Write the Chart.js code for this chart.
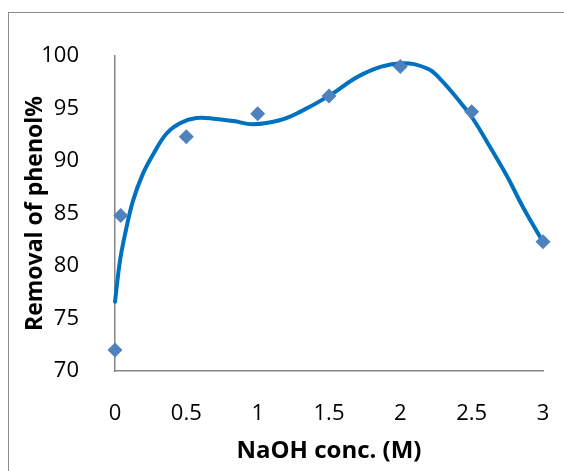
<!DOCTYPE html>
<html>
<head>
<meta charset="utf-8">
<script src="https://cdn.jsdelivr.net/npm/chart.js@4"></script>
<style>
  html, body { margin: 0; padding: 0; background: #fff; }
  #wrap { position: relative; width: 564px; height: 471px; overflow: hidden; }
  #frame { position: absolute; left: 8px; top: 12px; width: 600px; height: 500px;
           border-left: 1.5px solid #8c8c8c; border-top: 1.5px solid #8c8c8c; }
  canvas { position: absolute; left: 0; top: 0; }
</style>
</head>
<body>
<div id="wrap">
  <div id="frame"></div>
  <canvas id="removal" width="564" height="471"></canvas>
</div>
<script>
// measured points (NaOH conc. vs removal %)
const concM = [0, 0.04, 0.5, 1, 1.5, 2, 2.5, 3];
const removal = [72, 84.8, 92.3, 94.5, 96.2, 99, 94.7, 82.3];

// smoothed line
const curveX = [0, 0.035, 0.07, 0.126, 0.196, 0.27, 0.36, 0.455, 0.57, 0.71, 0.83, 0.97,
                1.16, 1.3, 1.5, 1.74, 2.0, 2.19, 2.28, 2.42, 2.51, 2.63, 2.75, 2.86, 3];
const curveY = [76.6, 80.5, 83.0, 86.2, 88.8, 90.7, 92.6, 93.6, 94.1, 94.0, 93.8, 93.5,
                93.9, 94.7, 96.2, 98.3, 99.3, 98.8, 97.8, 95.6, 94.0, 91.3, 88.5, 85.6, 82.3];

const xTitle = 'NaOH conc. (M)';
const yTitle = 'Removal of phenol%';

const fontFam = "'Open Sans', 'Liberation Sans', sans-serif";

const ctx = document.getElementById('removal').getContext('2d');
const chart = new Chart(ctx, {
    type: 'scatter',
    data: {
        datasets: [{
            label: 'data',
            data: concM.map((x, i) => ({x: x, y: removal[i]})),
            pointStyle: 'rectRot',
            pointRadius: 7.5,
            pointHoverRadius: 7.5,
            backgroundColor: '#4F81BD',
            borderColor: '#4F81BD',
            borderWidth: 0,
            clip: false,
            order: 0
        }, {
            label: 'curve',
            data: curveX.map((x, i) => ({x: x, y: curveY[i]})),
            showLine: true,
            tension: 0.4,
            borderColor: '#0070C0',
            borderWidth: 4,
            borderCapStyle: 'round',
            borderJoinStyle: 'round',
            pointRadius: 0,
            pointHoverRadius: 0,
            fill: false,
            clip: false,
            order: 1
        }]
    },
    options: {
        responsive: false,
        animation: false,
        events: [],
        layout: { padding: { left: 12, right: 21, top: 56, bottom: 0 } },
        plugins: { legend: { display: false }, tooltip: { enabled: false } },
        scales: {
            x: {
                type: 'linear',
                min: 0, max: 3,
                grid: { display: false },
                border: { display: true, color: '#868686', width: 1.5 },
                ticks: { stepSize: 0.5, padding: 22, color: '#000',
                         callback: (v) => String(v),
                         font: { family: fontFam, size: 22 } },
                title: { display: true, text: xTitle, color: '#000',
                         padding: { top: 0, bottom: 5 },
                         font: { family: fontFam, size: 24, weight: 'bold' } },
                afterFit: (s) => { s.height = 100; s.paddingLeft = 0; s.paddingRight = 0; }
            },
            y: {
                min: 70, max: 100,
                grid: { display: false },
                border: { display: true, color: '#868686', width: 1.5 },
                ticks: { stepSize: 5, padding: 28, color: '#000',
                         font: { family: fontFam, size: 22 } },
                title: { display: true, text: yTitle, color: '#000',
                         padding: { top: 10, bottom: 0 },
                         font: { family: fontFam, size: 23, weight: 'bold' } },
                afterFit: (s) => { s.width = 103; }
            }
        }
    }
});
</script>
</body>
</html>
